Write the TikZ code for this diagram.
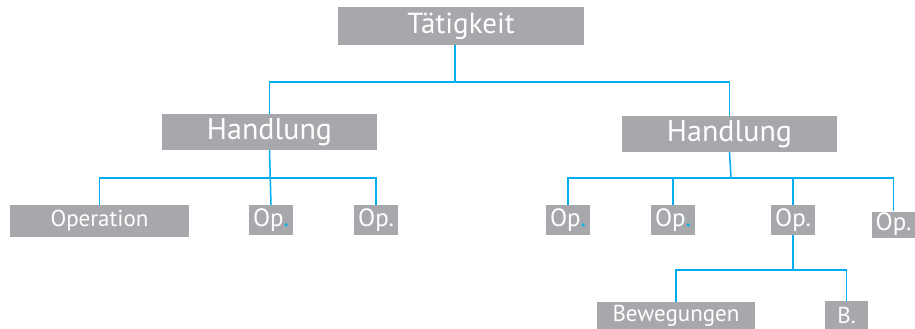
\documentclass[tikz,border=0pt]{standalone}
\usepackage{fontspec}
\setmainfont{PT Sans}
\definecolor{boxgrey}{HTML}{A7A8AB}
\definecolor{linkblue}{HTML}{00AEEF}
\begin{document}
\begin{tikzpicture}[x=1pt,y=-1pt,
  box/.style={fill=boxgrey,text=white,inner sep=0pt,anchor=center},
  big/.style={box,minimum width=215pt,minimum height=36pt,font=\fontsize{30}{31}\selectfont},
  small/.style={box,minimum width=44pt,minimum height=30pt,font=\fontsize{25}{26}\selectfont},
  wide/.style={box,font=\fontsize{23}{24}\selectfont},
  link/.style={draw=linkblue,line width=1.5pt}]
\useasboundingbox (0,0) rectangle (915,329);
\node[big,minimum width=246pt,minimum height=38pt,font=\fontsize{29}{30}\selectfont] (T) at (461,26) {Tätigkeit};
\node[big] (H1) at (269.5,132) {Handlung};
\node[big] (H2) at (729.5,134) {Handlung};
\node[wide,minimum width=179pt,minimum height=32pt] (Opn) at (99.5,221) {Operation};
\node[small] (O1) at (271,220) {Op\textcolor{linkblue}{.}};
\node[small] (O2) at (376,220) {Op.};
\node[small] (O3) at (568,220) {Op\textcolor{linkblue}{.}};
\node[small] (O4) at (673,220) {Op\textcolor{linkblue}{.}};
\node[small] (O5) at (793,220) {Op.};
\node[small,minimum width=43pt,minimum height=26pt] (O6) at (893.5,224.5) {Op.};
\node[wide,minimum width=158pt,minimum height=28pt] (Bew) at (676,316) {Bewegungen};
\node[wide,minimum width=43pt,minimum height=28pt] (B) at (846.5,315) {B.};
\coordinate (j0) at (455,82);
\coordinate (j1) at (270,178);
\coordinate (j2) at (731,178);
\coordinate (j3) at (793,270);
\draw[link] (j0 |- T.south) -- (j0);
\draw[link] (H1.north) -- (H1.north |- j0) -- (H2.north |- j0) -- (H2.north);
\draw[link] (H1.south) -- (O1.north);
\draw[link] (Opn.north) -- (Opn.north |- j1) -- (O2.north |- j1) -- (O2.north);
\draw[link] (H2.south) -- (j2);
\draw[link] (O3.north) -- (O3.north |- j2) -- (O6.north |- j2) -- (O6.north);
\draw[link] (O4.north) -- (O4.north |- j2);
\draw[link] (O5.north) -- (O5.north |- j2);
\draw[link] (O5.south) -- (j3);
\draw[link] (Bew.north) -- (Bew.north |- j3) -- (B.north |- j3) -- (B.north);
\end{tikzpicture}
\end{document}
